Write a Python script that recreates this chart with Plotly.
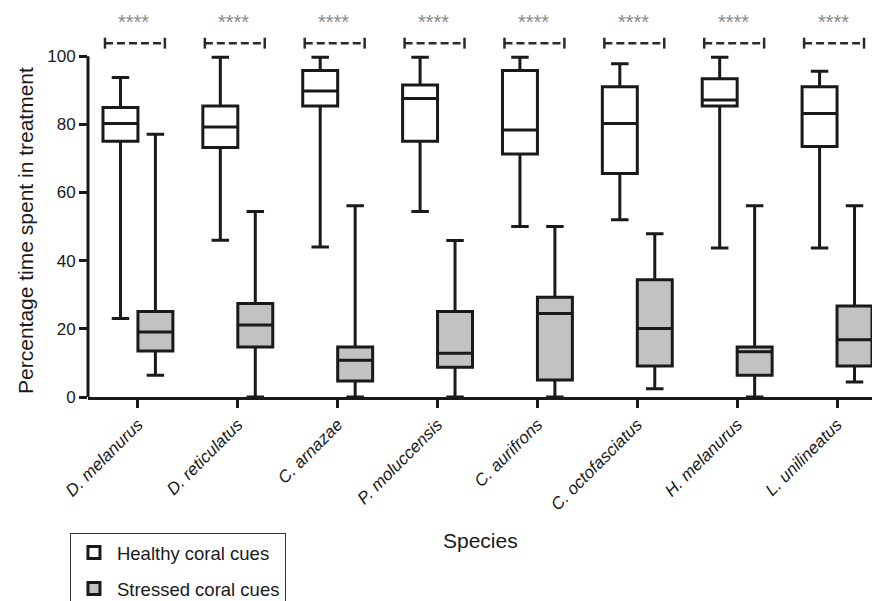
import plotly.graph_objects as go

species = ["D. melanurus", "D. reticulatus", "C. arnazae", "P. moluccensis",
           "C. aurifrons", "C. octofasciatus", "H. melanurus", "L. unilineatus"]

healthy_low = [23, 46, 44, 54.4, 50, 52, 43.7, 43.7]
healthy_q1 = [75, 73.2, 85.4, 75, 71.3, 65.6, 85.4, 73.5]
healthy_med = [80.2, 79.2, 89.8, 87.6, 78.3, 80.2, 87.1, 83.2]
healthy_q3 = [84.9, 85.4, 95.8, 91.5, 95.8, 91, 93.4, 91]
healthy_high = [93.7, 99.7, 99.7, 99.7, 99.7, 97.8, 99.7, 95.6]

stressed_low = [6.4, 0, 0, 0, 0, 2.4, 0, 4.4]
stressed_q1 = [13.5, 14.7, 4.7, 8.7, 5.0, 9.1, 6.4, 9.1]
stressed_med = [19.1, 21.1, 10.8, 12.8, 24.5, 20.1, 13.3, 16.8]
stressed_q3 = [25.1, 27.4, 14.7, 25.1, 29.3, 34.4, 14.7, 26.7]
stressed_high = [77.1, 54.4, 56.1, 45.9, 50, 47.9, 56.1, 56.1]

significance = ["****"] * 8

FONT = "Liberation Sans, Arial, Helvetica, sans-serif"

fig = go.Figure()
fig.add_trace(go.Box(
    name="Healthy coral cues", x=species,
    q1=healthy_q1, median=healthy_med, q3=healthy_q3,
    lowerfence=healthy_low, upperfence=healthy_high,
    fillcolor="white", line=dict(color="#1a1a1a", width=3),
    whiskerwidth=0.5, boxpoints=False, legendgroup="h",
))
fig.add_trace(go.Box(
    name="Stressed coral cues", x=species,
    q1=stressed_q1, median=stressed_med, q3=stressed_q3,
    lowerfence=stressed_low, upperfence=stressed_high,
    fillcolor="#c2c2c2", line=dict(color="#1a1a1a", width=3),
    whiskerwidth=0.5, boxpoints=False, legendgroup="s",
))

shapes = []
annotations = []
BR_Y = 103.8
for i, s in enumerate(species):
    x0, x1 = i - 0.33, i + 0.27
    shapes.append(dict(type="line", xref="x", yref="y", x0=x0, x1=x1, y0=BR_Y, y1=BR_Y,
                       line=dict(color="#2a2a2a", width=2.5, dash="8px,4px")))
    for xx in (x0, x1):
        shapes.append(dict(type="line", xref="x", yref="y", x0=xx, x1=xx,
                           y0=BR_Y - 1.6, y1=BR_Y + 1.6,
                           line=dict(color="#2a2a2a", width=2.5)))
    annotations.append(dict(x=i - 0.04, y=110.0, xref="x", yref="y", text=significance[i],
                            showarrow=False, font=dict(family=FONT, size=20, color="#8a8a8a")))

# y-axis line only from 0 to 100
shapes.append(dict(type="line", xref="paper", yref="y", x0=0, x1=0, y0=0, y1=100,
                   line=dict(color="#1a1a1a", width=3)))

annotations.append(dict(text="Percentage time spent in treatment", xref="paper", yref="paper",
                        x=-0.0804, y=0.426, textangle=-90, showarrow=False,
                        xanchor="center", yanchor="middle",
                        font=dict(family=FONT, size=21, color="#1a1a1a")))
annotations.append(dict(text="Species", xref="paper", yref="paper",
                        x=0.5, y=-0.365, showarrow=False, xanchor="center", yanchor="middle",
                        font=dict(family=FONT, size=21, color="#1a1a1a")))

fig.update_layout(
    width=872, height=601,
    margin=dict(l=88, r=0, t=5, b=204, pad=0, autoexpand=False),
    paper_bgcolor="white", plot_bgcolor="white",
    boxmode="group", boxgap=0.3, boxgroupgap=0,
    font=dict(family=FONT, color="#1a1a1a"),
    shapes=shapes, annotations=annotations,
    legend=dict(x=-0.023, y=-0.347, xanchor="left", yanchor="top",
                bordercolor="#333333", borderwidth=1, bgcolor="white",
                font=dict(family=FONT, size=18.5, color="#1a1a1a"),
                traceorder="grouped", tracegroupgap=9, itemwidth=36),
    showlegend=True,
)
fig.update_xaxes(
    type="category", range=[-0.5, 7.35], automargin=False,
    showline=True, linecolor="#1a1a1a", linewidth=3,
    ticks="outside", ticklen=8, tickwidth=2.5, tickcolor="#1a1a1a",
    tickangle=-45, showgrid=False, zeroline=False,
    tickfont=dict(family=FONT, size=17, color="#1a1a1a", style="italic"),
)
fig.update_yaxes(
    range=[0, 115], showline=False, showgrid=False, zeroline=False, automargin=False,
    tickvals=[0, 20, 40, 60, 80, 100], ticks="outside", ticklen=8, tickwidth=2.5,
    tickcolor="#1a1a1a", tickfont=dict(family=FONT, size=17, color="#1a1a1a"),
)

fig.write_html("out.html", config={"displayModeBar": False},
               post_script="document.body.style.margin='0px';")
